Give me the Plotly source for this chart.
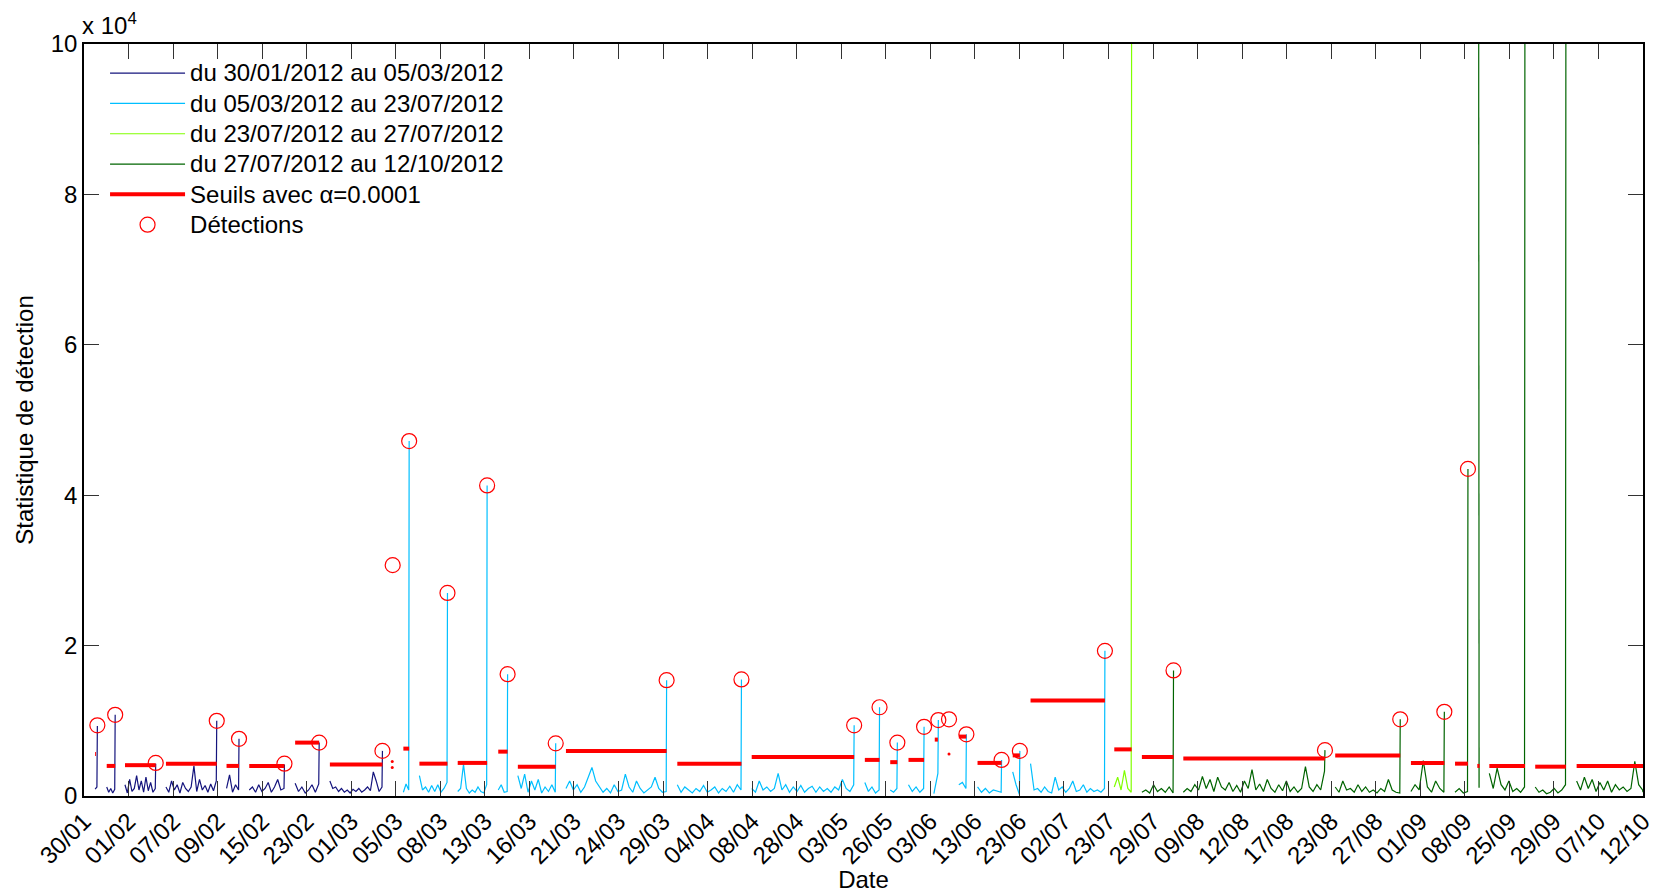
import numpy as np
import plotly.graph_objects as go

# =============================================================================
# Data — x is a sample index (100 samples between two date ticks),
# y is the detection statistic in units of 10^4.
# =============================================================================
TICK_LABELS = [
    "30/01", "01/02", "07/02", "09/02", "15/02", "23/02", "01/03", "05/03",
    "08/03", "13/03", "16/03", "21/03", "24/03", "29/03", "04/04", "08/04",
    "28/04", "03/05", "26/05", "03/06", "13/06", "23/06", "02/07", "23/07",
    "29/07", "09/08", "12/08", "17/08", "23/08", "27/08", "01/09", "08/09",
    "25/09", "29/09", "07/10", "12/10",
]

# each segment: (first sample, last sample, values — the last one is the peak)
SEG_P1 = [
    (25, 30, [0.09, 0.12, 0.93]),
    (51, 70, [0.12, 0.05, 0.10, 0.04, 0.09, 1.08]),
    (92, 161, [0.15, 0.04, 0.22, 0.06, 0.10, 0.27, 0.08, 0.20, 0.05, 0.25,
               0.07, 0.18, 0.05, 0.10, 0.43]),
    (184, 298, [0.12, 0.05, 0.20, 0.08, 0.15, 0.04, 0.18, 0.10, 0.06, 0.12,
                0.40, 0.06, 0.22, 0.08, 0.14, 0.05, 0.16, 0.07, 0.20, 1.00]),
    (320, 348, [0.10, 0.28, 0.05, 0.15, 0.08, 0.76]),
    (371, 450, [0.08, 0.12, 0.05, 0.15, 0.06, 0.10, 0.18, 0.05, 0.12, 0.22,
                0.08, 0.10, 0.42]),
    (474, 528, [0.17, 0.06, 0.12, 0.04, 0.08, 0.15, 0.05, 0.16, 0.71]),
    (552, 670, [0.20, 0.10, 0.12, 0.06, 0.10, 0.05, 0.08, 0.04, 0.09, 0.06,
                0.10, 0.05, 0.08, 0.12, 0.07, 0.32, 0.20, 0.06, 0.12, 0.60]),
]
SEG_P2 = [
    (717, 730, [0.05, 0.16, 0.08, 4.72]),
    (753, 816, [0.27, 0.08, 0.12, 0.05, 0.14, 0.06, 0.15, 0.05, 0.10, 0.18, 2.70]),
    (839, 905, [0.06, 0.10, 0.42, 0.10, 0.04, 0.08, 0.05, 0.12, 0.06, 0.04,
                0.15, 4.13]),
    (930, 951, [0.08, 0.15, 0.05, 0.06, 1.62]),
    (974, 1059, [0.27, 0.10, 0.29, 0.05, 0.20, 0.08, 0.22, 0.04, 0.12, 0.06,
                 0.15, 0.05, 0.70]),
    (1082, 1308, [0.10, 0.20, 0.08, 0.15, 0.05, 0.12, 0.25, 0.38, 0.20, 0.12,
                  0.05, 0.10, 0.04, 0.15, 0.06, 0.08, 0.29, 0.12, 0.05, 0.20,
                  0.10, 0.04, 0.08, 0.12, 0.25, 0.10, 0.05, 0.06, 1.54]),
    (1332, 1476, [0.15, 0.05, 0.12, 0.08, 0.04, 0.10, 0.06, 0.14, 0.05, 0.08,
                  0.12, 0.04, 0.10, 0.06, 0.13, 0.05, 0.15, 0.08, 1.55]),
    (1499, 1729, [0.10, 0.05, 0.20, 0.08, 0.12, 0.06, 0.10, 0.30, 0.08, 0.15,
                  0.05, 0.12, 0.06, 0.14, 0.05, 0.10, 0.13, 0.05, 0.12, 0.06,
                  0.10, 0.05, 0.12, 0.08, 0.22, 0.10, 0.06, 0.15, 0.94]),
    (1753, 1786, [0.18, 0.06, 0.12, 0.04, 0.08, 1.18]),
    (1810, 1826, [0.08, 0.05, 0.10, 0.71]),
    (1851, 1886, [0.15, 0.06, 0.12, 0.05, 0.10, 0.92]),
    (1908, 1918, [0.03, 0.30, 1.01]),
    (1964, 1981, [0.15, 0.18, 0.10, 0.82]),
    (2006, 2060, [0.12, 0.05, 0.10, 0.04, 0.08, 0.06, 0.05, 0.48]),
    (2085, 2101, [0.32, 0.15, 0.02, 0.60]),
    (2125, 2292, [0.43, 0.08, 0.10, 0.05, 0.12, 0.06, 0.04, 0.25, 0.08, 0.12,
                  0.05, 0.10, 0.20, 0.06, 0.08, 0.15, 0.05, 0.10, 0.06, 0.08,
                  0.05, 0.10, 1.93]),
]
SEG_P3 = [
    (2313, 2352, [0.12, 0.25, 0.08, 0.34, 0.10, 0.05, 12.0]),
]
SEG_P4 = [
    (2375, 2446, [0.05, 0.08, 0.04, 0.15, 0.06, 0.10, 0.05, 0.12, 0.04, 1.67]),
    (2468, 2786, [0.05, 0.10, 0.06, 0.15, 0.08, 0.26, 0.10, 0.22, 0.06, 0.25,
                  0.12, 0.08, 0.18, 0.06, 0.14, 0.05, 0.20, 0.10, 0.35, 0.08,
                  0.16, 0.06, 0.22, 0.10, 0.05, 0.15, 0.07, 0.20, 0.06, 0.12,
                  0.05, 0.10, 0.39, 0.12, 0.06, 0.15, 0.08, 0.33, 0.61]),
    (2809, 2955, [0.12, 0.05, 0.20, 0.08, 0.10, 0.05, 0.15, 0.06, 0.12, 0.05,
                  0.08, 0.04, 0.10, 0.06, 0.22, 0.08, 0.05, 0.04, 1.02]),
    (2979, 3054, [0.06, 0.15, 0.08, 0.47, 0.12, 0.05, 0.20, 0.10, 0.05, 1.12]),
    (3078, 3107, [0.05, 0.10, 0.04, 0.06, 4.35]),
    (3131, 3132, [12.0, 0.11]),
    (3155, 3235, [0.30, 0.10, 0.37, 0.15, 0.08, 0.20, 0.06, 0.10, 0.05, 0.12, 12.0]),
    (3258, 3327, [0.12, 0.05, 0.08, 0.03, 0.05, 0.10, 0.04, 0.08, 0.15, 12.0]),
    (3351, 3500, [0.20, 0.08, 0.25, 0.10, 0.22, 0.06, 0.18, 0.08, 0.20, 0.05,
                  0.15, 0.08, 0.12, 0.06, 0.10, 0.46, 0.15, 0.08, 0.05]),
]

# thresholds (alpha = 0.0001), one level per analysis window
THR_START = [25, 51, 92, 184, 320, 371, 474, 552, 717, 753, 839, 930, 974,
             1082, 1332, 1499, 1753, 1810, 1851, 1910, 1964, 2006, 2085, 2125,
             2313, 2375, 2468, 2809, 2979, 3078, 3128, 3155, 3258, 3351]
THR_END = [27, 70, 161, 298, 348, 450, 528, 670, 730, 816, 905, 951, 1059,
           1308, 1476, 1729, 1786, 1826, 1886, 1917, 1981, 2060, 2101, 2292,
           2352, 2446, 2786, 2955, 3054, 3107, 3133, 3235, 3327, 3500]
THR_VALUE = [0.56, 0.40, 0.41, 0.43, 0.40, 0.40, 0.71, 0.42, 0.63, 0.43, 0.44,
             0.59, 0.39, 0.60, 0.43, 0.52, 0.48, 0.45, 0.48, 0.75, 0.79, 0.44,
             0.54, 1.27, 0.62, 0.52, 0.50, 0.54, 0.44, 0.43, 0.40, 0.40, 0.39,
             0.40]
# single-sample thresholds (show up as dots)
THR_DOT_X = [692, 692, 1942]
THR_DOT_Y = [0.46, 0.38, 0.56]

DET_X = [30, 70, 161, 298, 348, 450, 528, 670, 693, 730, 816, 905, 951, 1059,
         1308, 1476, 1729, 1786, 1826, 1886, 1918, 1942, 1981, 2060, 2101,
         2292, 2446, 2786, 2955, 3054, 3107]
DET_Y = [0.94, 1.08, 0.44, 1.00, 0.76, 0.43, 0.71, 0.60, 3.07, 4.72, 2.70,
         4.13, 1.62, 0.70, 1.54, 1.55, 0.94, 1.18, 0.71, 0.92, 1.01, 1.02,
         0.82, 0.48, 0.60, 1.93, 1.67, 0.61, 1.02, 1.12, 4.35]


def build(segments):
    xs, ys = [], []
    for start, end, vals in segments:
        body = vals[:-1]
        xs += list(np.linspace(start, end - 1, len(body))) + [end, None]
        ys += body + [vals[-1], None]
    return xs, ys


def legend_label(text):
    # bigger glyphs than the legend font, so rows keep the tight spacing
    return f'<span style="font-size:24px">{text}</span>'


PERIODS = [
    ("du 30/01/2012 au 05/03/2012", SEG_P1, "#14147d"),
    ("du 05/03/2012 au 23/07/2012", SEG_P2, "#00bfff"),
    ("du 23/07/2012 au 27/07/2012", SEG_P3, "#80ff00"),
    ("du 27/07/2012 au 12/10/2012", SEG_P4, "#006400"),
]

fig = go.Figure()
for name, segs, color in PERIODS:
    x, y = build(segs)
    fig.add_trace(go.Scatter(x=x, y=y, mode="lines", name=legend_label(name),
                             line=dict(color=color, width=1.2)))

tx, ty = [], []
for s, e, v in zip(THR_START, THR_END, THR_VALUE):
    tx += [s, e, None]
    ty += [v, v, None]
fig.add_trace(go.Scatter(x=tx, y=ty, mode="lines",
                         name=legend_label("Seuils avec α=0.0001"),
                         line=dict(color="#ff0000", width=4)))
fig.add_trace(go.Scatter(x=THR_DOT_X, y=THR_DOT_Y, mode="markers",
                         marker=dict(color="#ff0000", size=3), showlegend=False))
fig.add_trace(go.Scatter(x=DET_X, y=DET_Y, mode="markers",
                         name=legend_label("Détections"),
                         marker=dict(symbol="circle-open", size=15, color="#ff0000",
                                     line=dict(width=1.2))))

axis_common = dict(
    showline=True, linecolor="black", linewidth=1.5, mirror="allticks",
    ticks="inside", ticklen=15, tickwidth=1, tickcolor="#333333",
    showgrid=False, zeroline=False, tickfont=dict(size=24), automargin=False,
    ticklabeloverflow="allow",
)
fig.update_xaxes(
    range=[0, 3500], tickvals=[i * 100 for i in range(len(TICK_LABELS))],
    ticktext=TICK_LABELS, tickangle=-45,
    title=dict(text="Date", standoff=2, font=dict(size=24)), **axis_common,
)
fig.update_yaxes(
    range=[0, 10], tickvals=[0, 2, 4, 6, 8, 10],
    title=dict(text="Statistique de détection", standoff=10, font=dict(size=24)),
    **axis_common,
)

fig.add_annotation(text="x 10<sup>4</sup>", xref="paper", yref="paper",
                   x=0, y=1, xanchor="left", yanchor="bottom", xshift=-4, yshift=3,
                   showarrow=False, font=dict(size=24))

fig.update_layout(
    width=1655, height=893,
    margin=dict(l=84, r=12, t=44, b=97),
    plot_bgcolor="white", paper_bgcolor="white",
    font=dict(family="Liberation Sans, Arial, sans-serif", size=24, color="black"),
    legend=dict(x=0.0135, y=0.988, xanchor="left", yanchor="top",
                bgcolor="rgba(0,0,0,0)", itemwidth=75, font=dict(size=21)),
)
# drop the browser's default body margin so the figure sits at the page corner
fig.write_html("out.html", config={"displayModeBar": False},
               post_script="document.body.style.margin='0';")
